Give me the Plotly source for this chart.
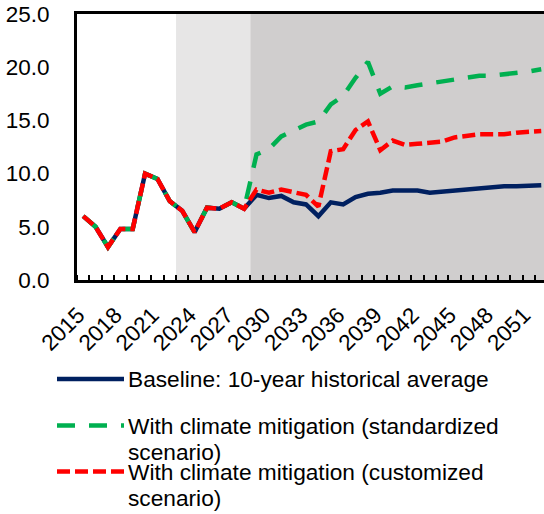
import plotly.graph_objects as go

# ---------------- data ----------------
years = list(range(2015, 2053))
tick_years = list(range(2015, 2052, 3))

baseline = [6.0, 5.0, 3.1, 4.8, 4.8, 10.0, 9.5, 7.4, 6.5, 4.5, 6.8, 6.7, 7.3, 6.7,
            8.0, 7.7, 7.9, 7.3, 7.1, 6.0, 7.3, 7.1, 7.8, 8.1, 8.2, 8.4, 8.4, 8.4,
            8.2, 8.3, 8.5, 8.5, 8.6, 8.7, 8.8, 8.8, 8.9, 8.9]
standardized = [6.0, 5.0, 3.1, 4.8, 4.8, 10.0, 9.5, 7.4, 6.5, 4.5, 6.8, 6.7, 7.3, 6.7,
                11.8, 12.3, 13.5, 14.0, 14.6, 14.9, 16.5, 17.3, 19.0, 20.5, 17.5, 18.2,
                18.1, 18.3, 18.5, 18.7, 18.9, 19.0, 19.2, 19.2, 19.3, 19.4, 19.6, 19.8]
customized = [6.0, 5.0, 3.1, 4.8, 4.8, 10.0, 9.5, 7.4, 6.5, 4.5, 6.8, 6.7, 7.3, 6.7,
              8.5, 8.2, 8.5, 8.3, 8.0, 6.9, 12.1, 12.3, 14.1, 14.9, 12.2, 13.1,
              12.7, 12.8, 12.9, 13.0, 13.4, 13.6, 13.7, 13.7, 13.7, 13.85, 13.9, 14.0]

names = ["Baseline: 10-year historical average",
         "With climate mitigation (standardized scenario)",
         "With climate mitigation (customized scenario)"]
legend_lines = [["Baseline: 10-year historical average"],
                ["With climate mitigation (standardized", "scenario)"],
                ["With climate mitigation (customized", "scenario)"]]

light_period = (2023, 2028)   # lightly shaded years
dark_period = (2029, 2052)    # darker shaded years

# ---------------- styling ----------------
W, H = 544, 514
L, T, B = 77, 14, 234
PW = W - L
PH = H - T - B
FONT = "Liberation Sans, Arial, sans-serif"
NAVY, GREEN, RED = "#002060", "#00B050", "#FF0000"
LIGHT, DARK = "#E7E6E6", "#D0CECE"
YEAR_PX = 12.38


def px_x(p):
    return (p - L) / PW


def px_y(p):
    return (H - B - p) / PH


fig = go.Figure()

styles = [dict(color=NAVY, width=4.5, dash="solid"),
          dict(color=GREEN, width=4.5, dash="18px,14px"),
          dict(color=RED, width=4.5, dash="13px,5px")]
for name, vals, st in zip(names, [baseline, standardized, customized], styles):
    fig.add_trace(go.Scatter(x=years, y=vals, mode="lines", name=name,
                             line=st, showlegend=False, hoverinfo="skip"))

shapes = []
for (a, b), col in [(light_period, LIGHT), (dark_period, DARK)]:
    shapes.append(dict(type="rect", xref="x", yref="paper", x0=a - 0.5, x1=b + 0.5,
                       y0=0, y1=1, fillcolor=col, line=dict(width=0), layer="below"))

# custom legend
leg_rows = [379, 425.5, 471.5]
annotations = []
for i, (row, lines, st) in enumerate(zip(leg_rows, legend_lines, styles)):
    shapes.append(dict(type="line", xref="paper", yref="paper",
                       x0=px_x(57), x1=px_x(124), y0=px_y(row), y1=px_y(row),
                       line=dict(color=st["color"], width=4.5, dash=st["dash"])))
    for j, txt in enumerate(lines):
        annotations.append(dict(text=txt, xref="paper", yref="paper",
                                x=px_x(126), y=px_y(row + j * 26.7),
                                xanchor="left", yanchor="middle", showarrow=False,
                                font=dict(family=FONT, size=22.7, color="#000000")))

x_end = 2014.5 + PW / YEAR_PX

fig.update_layout(
    width=W, height=H,
    margin=dict(l=L, r=0, t=T, b=B, pad=0),
    paper_bgcolor="white", plot_bgcolor="white",
    shapes=shapes, annotations=annotations,
    font=dict(family=FONT, size=22, color="#000000"),
    xaxis=dict(range=[2014.5, x_end], tickmode="array", tickvals=tick_years,
               ticktext=[str(y) for y in tick_years], tickangle=-45, ticks="",
               showgrid=False, zeroline=False, showline=True, linecolor="black",
               linewidth=3, mirror=True, ticklabelstandoff=10, ticklabelshift=-5,
               tickfont=dict(family=FONT, size=22.5, color="#000000"),
               minor=dict(ticks="inside", tick0=2014.5, dtick=1, ticklen=5,
                          tickwidth=2, tickcolor="black", showgrid=False)),
    yaxis=dict(range=[0, 25], tickmode="array", tickvals=[0, 5, 10, 15, 20, 25],
               tickformat=".1f", ticks="", showgrid=False, zeroline=False,
               showline=True, linecolor="black", linewidth=3, mirror=False,
               ticklabelstandoff=20,
               tickfont=dict(family=FONT, size=22.5, color="#000000")),
)

fig.write_html("out.html", config={"displayModeBar": False},
               post_script="document.body.style.margin='0';")
